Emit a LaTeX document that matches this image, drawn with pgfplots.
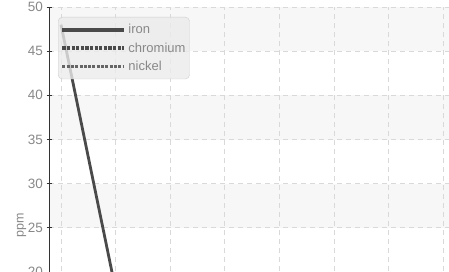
\documentclass[border=0pt]{standalone}
\usepackage{fontspec}
\setmainfont{Liberation Sans}
\usepackage{pgfplots}
\pgfplotsset{compat=1.18}
\definecolor{gridc}{HTML}{D9D9D9}
\definecolor{bandc}{HTML}{F7F7F7}
\definecolor{ironc}{HTML}{4A4A4A}
\definecolor{labc}{HTML}{888888}
\definecolor{axc}{HTML}{333333}
\definecolor{legfill}{HTML}{EBEBEB}
\definecolor{legdraw}{HTML}{CFCFCF}
\begin{document}
\begin{tikzpicture}
\begin{axis}[
  set layers,
  scale only axis,
  width=421.5pt, height=309.2pt,
  at={(49pt,-45.2pt)}, anchor=south west,
  xmin=-0.22, xmax=7.5,
  ymin=15, ymax=50,
  separate axis lines,
  x axis line style={draw=none},
  y axis line style={draw=axc, line width=0.9pt},
  xtick={0,...,7}, xticklabels={},
  major x tick style={draw=none},
  ytick={15,20,...,50},
  ytick pos=left,
  tick align=center,
  major tick length=5pt,
  major y tick style={draw=axc, line width=0.9pt},
  xmajorgrids, ymajorgrids,
  major grid style={draw=gridc, line width=0.8pt, dash pattern=on 5pt off 4pt},
  /pgf/number format/assume math mode=true,
  tick label style={font=\fontsize{13.5}{14}\selectfont, text=labc},
  ylabel={ppm},
  ylabel style={font=\fontsize{12.5}{14}\selectfont, text=labc, at={(axis description cs:-0.065,0.2943)}, anchor=center},
  legend cell align=left,
  legend style={
    at={(0.0214,0.9677)}, anchor=north west,
    draw=legdraw, fill=legfill, fill opacity=0.8, text opacity=1,
    rounded corners=4pt,
    font=\fontsize{13}{14}\selectfont, text=labc,
    inner xsep=2pt, inner ysep=5pt,
    row sep=3.5pt,
  },
  legend image code/.code={\draw[#1] (0pt,0pt) -- (62pt,0pt);},
]
\addplot[fill=bandc, draw=none, on layer=axis background, forget plot] coordinates {(-0.22,45) (9,45) (9,50) (-0.22,50)} --cycle;
\addplot[fill=bandc, draw=none, on layer=axis background, forget plot] coordinates {(-0.22,35) (9,35) (9,40) (-0.22,40)} --cycle;
\addplot[fill=bandc, draw=none, on layer=axis background, forget plot] coordinates {(-0.22,25) (9,25) (9,30) (-0.22,30)} --cycle;
\addplot[fill=bandc, draw=none, on layer=axis background, forget plot] coordinates {(-0.22,15) (9,15) (9,20) (-0.22,20)} --cycle;
\addplot[color=ironc, line width=2.8pt, forget plot] coordinates {(0,48) (1,18)};
\addlegendimage{color=ironc, line width=4.2pt}
\addlegendentry{iron}
\addlegendimage{color=ironc, line width=4.2pt, dash pattern=on 3.2pt off 1.4pt}
\addlegendentry{chromium\hspace{5pt}}
\addlegendimage{color=ironc!85, line width=3.2pt, dash pattern=on 3pt off 1.3pt}
\addlegendentry{nickel}
\end{axis}
\pgfresetboundingbox
\path[use as bounding box] (0,0) rectangle (449pt,271pt);
\end{tikzpicture}
\end{document}
